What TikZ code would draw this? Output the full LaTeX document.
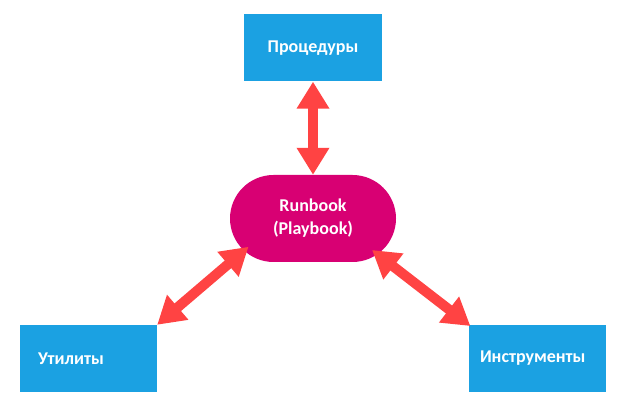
\documentclass[tikz,border=0pt]{standalone}
\usepackage{fontspec}
\setmainfont{Carlito}
\usetikzlibrary{arrows.meta,shapes.misc}
\definecolor{boxblue}{HTML}{1BA1E2}
\definecolor{hubpink}{HTML}{D80073}
\definecolor{linkred}{HTML}{FF4343}
\begin{document}
\begin{tikzpicture}[x=1pt,y=1pt,
    box/.style={fill=boxblue,draw=none,text=white,font=\fontsize{18}{23}\selectfont\bfseries,minimum width=137pt,minimum height=67pt,inner sep=0pt},
    hub/.style={rounded rectangle,fill=hubpink,draw=none,text=white,align=center,font=\fontsize{18}{23}\selectfont\bfseries,minimum width=166pt,minimum height=87pt,inner sep=0pt},
    link/.style={draw=linkred,line width=10pt,{Triangle[width=31pt,length=27pt]}-{Triangle[width=31pt,length=27pt]},color=linkred}]
                 \useasboundingbox (0,0) rectangle (624,414);
                 \node[box,minimum width=138pt](a)at(313,366){Процедуры};
                 \node[hub](c)at(313,195.5){Runbook\\(Playbook)};
                 \node[box,align=left,text width=101pt,inner xsep=18pt](b)at(88.5,55.5){Утилиты};
                 \node[box,align=left,text width=115pt,inner xsep=11pt](d)at(537.5,55.5){Инструменты};
                 \draw[link](a.south)--(c.north);
                 \draw[link,shorten >=-6pt](b.north east)--(c.205);
                 \draw[link,shorten >=-7pt,shorten <=-2pt](d.north west)--(c.331);
               \end{tikzpicture}
\end{document}
